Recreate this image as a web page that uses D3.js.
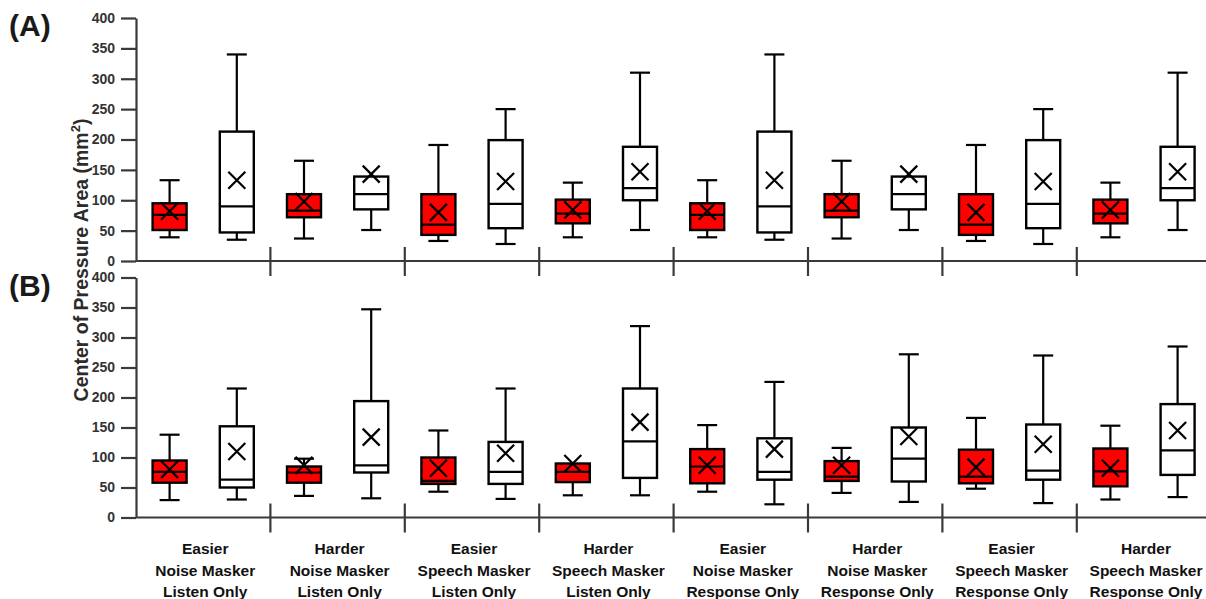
<!DOCTYPE html>
<html>
<head>
<meta charset="utf-8">
<script src="https://cdn.jsdelivr.net/npm/d3@7"></script>
<style>
  html, body { margin: 0; padding: 0; background: #fff; }
  svg { display: block; font-family: "Liberation Sans", Arial, sans-serif; }
</style>
</head>
<body>
<svg id="chart" width="1206" height="599"></svg>
<script>
// Conditions along the x axis (three label lines each)
const categories = [
  ["Easier", "Noise Masker", "Listen Only"],
  ["Harder", "Noise Masker", "Listen Only"],
  ["Easier", "Speech Masker", "Listen Only"],
  ["Harder", "Speech Masker", "Listen Only"],
  ["Easier", "Noise Masker", "Response Only"],
  ["Harder", "Noise Masker", "Response Only"],
  ["Easier", "Speech Masker", "Response Only"],
  ["Harder", "Speech Masker", "Response Only"]
];
const seriesKeys = ["filled", "open"];
const yTicks = [0, 50, 100, 150, 200, 250, 300, 350, 400];

// Box statistics: [lower whisker, Q1, median, Q3, upper whisker, mean]
const panelAFilled = [
  [39, 51, 76, 95, 133, 82],
  [37, 72, 83, 110, 165, 98],
  [33, 43, 60, 110, 191, 80],
  [39, 62, 78, 101, 129, 84],
  [39, 51, 76, 95, 133, 82],
  [37, 72, 83, 110, 165, 98],
  [33, 43, 60, 110, 191, 80],
  [39, 62, 78, 101, 129, 84]
];
const panelAOpen = [
  [35, 47, 90, 213, 340, 133],
  [51, 85, 110, 139, 139, 143],
  [28, 54, 94, 199, 250, 131],
  [51, 100, 120, 188, 310, 147],
  [35, 47, 90, 213, 340, 133],
  [51, 85, 110, 139, 139, 143],
  [28, 54, 94, 199, 250, 131],
  [51, 100, 120, 188, 310, 147]
];
const panelBFilled = [
  [29, 58, 76, 95, 138, 80],
  [36, 58, 75, 85, 98, 87],
  [43, 56, 61, 100, 145, 82],
  [37, 59, 76, 90, 90, 90],
  [43, 57, 85, 114, 154, 87],
  [41, 61, 68, 94, 116, 87],
  [48, 57, 68, 113, 166, 84],
  [30, 52, 77, 115, 153, 82]
];
const panelBOpen = [
  [30, 50, 63, 152, 215, 110],
  [32, 75, 87, 194, 347, 134],
  [31, 56, 76, 126, 215, 107],
  [37, 66, 127, 215, 319, 159],
  [22, 63, 76, 132, 226, 114],
  [26, 60, 98, 150, 272, 135],
  [24, 63, 78, 155, 270, 122],
  [34, 71, 112, 189, 285, 145]
];

const svg = d3.select("#chart");
const axisColor = "#3a3a3a";
const fills = { filled: "#ff0000", open: "#ffffff" };

const x0 = 136, bandW = 134.4;
const x = d3.scaleBand()
  .domain(d3.range(categories.length))
  .range([x0, x0 + bandW * categories.length])
  .paddingInner(0).paddingOuter(0);
const xs = d3.scaleBand().domain(seriesKeys).range([0, x.bandwidth()]);

const boxW = 34, capW = 20, markHalf = 8.5;

function drawPanel(label, yTop, yBottom, filled, open) {
  const y = d3.scaleLinear().domain([0, 400]).range([yBottom, yTop]);
  const g = svg.append("g");

  // panel letter
  g.append("text")
    .attr("x", 9).attr("y", yTop + 18)
    .attr("font-size", 30).attr("font-weight", "bold").attr("fill", "#1a1a1a")
    .text(label);

  // y axis
  const yAxis = g.append("g")
    .attr("transform", `translate(${x0},0)`)
    .call(d3.axisLeft(y).tickValues(yTicks).tickSize(15).tickPadding(6).tickSizeOuter(0));
  yAxis.attr("font-size", 14).attr("font-family", null);
  yAxis.select(".domain").attr("stroke", axisColor).attr("stroke-width", 2.2);
  yAxis.selectAll(".tick line").attr("stroke", axisColor).attr("stroke-width", 2.2);
  yAxis.selectAll(".tick text")
    .attr("font-size", 14).attr("font-weight", "bold").attr("fill", "#333");

  // x axis line with separators between conditions
  g.append("line")
    .attr("x1", x0).attr("x2", x0 + bandW * categories.length)
    .attr("y1", y(0)).attr("y2", y(0))
    .attr("stroke", axisColor).attr("stroke-width", 2.2);
  g.selectAll(".sep")
    .data(d3.range(1, categories.length + 1))
    .join("line")
    .attr("class", "sep")
    .attr("x1", i => x0 + i * x.step()).attr("x2", i => x0 + i * x.step())
    .attr("y1", y(0) - 14).attr("y2", y(0) + 15)
    .attr("stroke", axisColor).attr("stroke-width", 2.2);

  const rows = [];
  categories.forEach((c, i) => {
    rows.push({ i, key: "filled", s: filled[i] });
    rows.push({ i, key: "open", s: open[i] });
  });

  const boxes = g.selectAll(".box").data(rows).join("g")
    .attr("class", "box")
    .attr("transform", d => `translate(${x(d.i) + xs(d.key) + xs.bandwidth() / 2},0)`);

  // whiskers
  boxes.append("line")
    .attr("x1", 0).attr("x2", 0)
    .attr("y1", d => y(d.s[0])).attr("y2", d => y(d.s[4]))
    .attr("stroke", "#000").attr("stroke-width", 2.2);
  boxes.append("line")
    .attr("x1", -capW / 2).attr("x2", capW / 2)
    .attr("y1", d => y(d.s[0])).attr("y2", d => y(d.s[0]))
    .attr("stroke", "#000").attr("stroke-width", 2.2);
  boxes.filter(d => d.s[4] > d.s[3]).append("line")
    .attr("x1", -capW / 2).attr("x2", capW / 2)
    .attr("y1", d => y(d.s[4])).attr("y2", d => y(d.s[4]))
    .attr("stroke", "#000").attr("stroke-width", 2.2);

  // interquartile box
  boxes.append("rect")
    .attr("x", -boxW / 2).attr("width", boxW)
    .attr("y", d => y(d.s[3])).attr("height", d => y(d.s[1]) - y(d.s[3]))
    .attr("fill", d => fills[d.key])
    .attr("stroke", "#000").attr("stroke-width", 2.4);

  // median
  boxes.append("line")
    .attr("x1", -boxW / 2).attr("x2", boxW / 2)
    .attr("y1", d => y(d.s[2])).attr("y2", d => y(d.s[2]))
    .attr("stroke", "#000").attr("stroke-width", 2.2);

  // mean marker
  boxes.append("path")
    .attr("d", d => {
      const cy = y(d.s[5]), h = markHalf;
      return `M${-h},${cy - h}L${h},${cy + h}M${-h},${cy + h}L${h},${cy - h}`;
    })
    .attr("stroke", "#000").attr("stroke-width", 2.2).attr("fill", "none");

  return y;
}

drawPanel("(A)", 18, 261, panelAFilled, panelAOpen);
drawPanel("(B)", 277.5, 517.5, panelBFilled, panelBOpen);

// condition labels below the lower panel
const labels = svg.append("g").selectAll("text")
  .data(categories.map((c, i) => ({ c, i })))
  .join("text")
  .attr("text-anchor", "middle")
  .attr("font-size", 15.5).attr("font-weight", "bold").attr("fill", "#111")
  .attr("transform", d => `translate(${x(d.i) + x.bandwidth() / 2 + 2},0)`);
labels.selectAll("tspan")
  .data(d => d.c)
  .join("tspan")
  .attr("x", 0)
  .attr("y", (t, k) => 554 + k * 21.6)
  .text(t => t);

// shared y-axis title
const title = svg.append("text")
  .attr("transform", "translate(88,260) rotate(-90)")
  .attr("text-anchor", "middle")
  .attr("font-size", 19.5).attr("font-weight", "bold").attr("fill", "#2b2b2b");
title.append("tspan").text("Center of Pressure Area (mm");
title.append("tspan").attr("font-size", 13).attr("dy", -8).text("2");
title.append("tspan").attr("dy", 8).text(")");
</script>
</body>
</html>
